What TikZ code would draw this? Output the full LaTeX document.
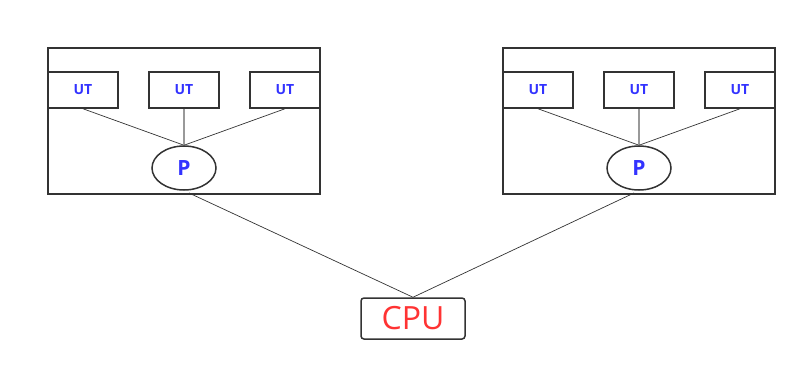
\documentclass[tikz,border=0pt]{standalone}
\usepackage{fontspec}
\setmainfont{Open Sans}
\usetikzlibrary{shapes.geometric}
\definecolor{edge}{HTML}{333333}
\definecolor{txtblue}{HTML}{3333FF}
\definecolor{txtred}{HTML}{FF3333}
\definecolor{midgray}{HTML}{999999}
\begin{document}
\begin{tikzpicture}[x=1bp,y=-1bp,
  frame/.style={draw=edge,line width=1.5bp},
  utbox/.style={draw=edge,line width=1.5bp,minimum width=70bp,minimum height=36bp,inner sep=0pt,
    font=\fontsize{14bp}{16bp}\selectfont\bfseries,text=txtblue},
  pnode/.style={ellipse,draw=edge,line width=1.5bp,minimum width=64bp,minimum height=44bp,inner sep=0pt,
    font=\fontsize{21bp}{24bp}\selectfont\bfseries,text=txtblue},
  cpunode/.style={draw=edge,line width=1.5bp,rounded corners=3bp,minimum width=104bp,minimum height=41bp,inner sep=0pt,
    font=\fontsize{32bp}{36bp}\selectfont,text=txtred},
  conn/.style={draw=edge,line width=0.7bp},
  vconn/.style={draw=midgray,line width=1.3bp}]
\useasboundingbox (0,0) rectangle (807,371);
% left group
\draw[frame] (48,48) rectangle (320,194);
\node[utbox] (l1) at (83,90) {UT};
\node[utbox] (l2) at (184,90) {UT};
\node[utbox] (l3) at (285,90) {UT};
\node[pnode] (lp) at (184,168) {P};
% right group
\draw[frame] (503,48) rectangle (775,194);
\node[utbox] (r1) at (538,90) {UT};
\node[utbox] (r2) at (639,90) {UT};
\node[utbox] (r3) at (740,90) {UT};
\node[pnode] (rp) at (639,168) {P};
% cpu
\node[cpunode] (cpu) at (413,318.5) {CPU};
% connectors
\draw[conn] (l1.south) -- (lp.north);
\draw[vconn] (l2.south) -- (lp.north);
\draw[conn] (l3.south) -- (lp.north);
\draw[conn] (r1.south) -- (rp.north);
\draw[vconn] (r2.south) -- (rp.north);
\draw[conn] (r3.south) -- (rp.north);
\coordinate (lpb) at (189,193);
\coordinate (rpb) at (634,193);
\draw[conn] (lpb) -- (cpu.north);
\draw[conn] (rpb) -- (cpu.north);
\end{tikzpicture}
\end{document}
